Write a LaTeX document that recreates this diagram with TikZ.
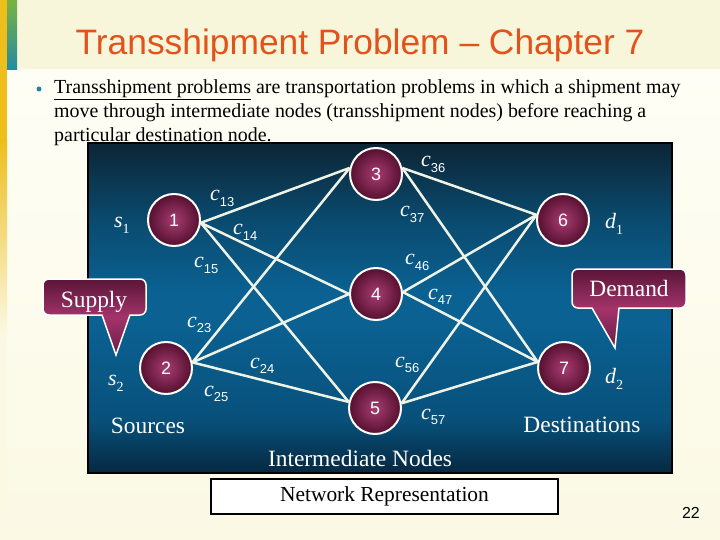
\documentclass[tikz,border=0pt]{standalone}
\usepackage{fontspec}
\setmainfont{Liberation Serif}
\newfontfamily\arialf{Liberation Sans}
\definecolor{slidebg}{HTML}{FBF9E4}
\definecolor{titleband}{HTML}{F7F5DA}
\definecolor{panelc}{HTML}{FEFEF6}
\definecolor{stripeY}{HTML}{EDBE1C}
\definecolor{stripeG}{HTML}{7AB342}
\definecolor{stripeT}{HTML}{2589A2}
\definecolor{titlec}{HTML}{E2531C}
\definecolor{bulletc}{HTML}{2A7F9A}
\definecolor{boxtop}{HTML}{0C2535}
\definecolor{boxupper}{HTML}{0A4A6E}
\definecolor{boxmid}{HTML}{0A6192}
\definecolor{boxlower}{HTML}{08507A}
\definecolor{boxbot}{HTML}{062840}
\definecolor{nodein}{HTML}{A83C72}
\definecolor{nodeout}{HTML}{55102F}
\definecolor{calltop}{HTML}{5A1537}
\definecolor{callmid}{HTML}{A3346B}
\definecolor{callbot}{HTML}{6A1C45}
\definecolor{edgec}{HTML}{EEF3E6}
% TikZ fits the path to the central 25bp--75bp band of a 100bp shading
\pgfdeclareverticalshading{panelshade}{100bp}{color(0bp)=(boxbot); color(25bp)=(boxbot); color(33bp)=(boxlower); color(47.5bp)=(boxmid); color(52.5bp)=(boxmid); color(63.5bp)=(boxupper); color(75bp)=(boxtop); color(100bp)=(boxtop)}
\pgfdeclareverticalshading{callshade}{100bp}{color(0bp)=(callbot); color(25bp)=(callbot); color(50bp)=(callmid); color(75bp)=(calltop); color(100bp)=(calltop)}
\pgfdeclarelayer{bglayer}
\pgfdeclarelayer{edgelayer}
\pgfsetlayers{bglayer,edgelayer,main}
\newcommand{\costlab}[1]{{\fontsize{22}{22}\selectfont\itshape c}\raisebox{-5.5bp}{\arialf\fontsize{13}{13}\selectfont #1}}
\newcommand{\qtylab}[2]{{\fontsize{22}{22}\selectfont\itshape #1}\raisebox{-6bp}{\fontsize{14}{14}\selectfont #2}}
\tikzset{
  netnode/.style={circle, minimum size=52bp, inner sep=0pt, draw=white, line width=2bp,
    inner color=nodein, outer color=nodeout, text=white,
    font=\arialf\fontsize{18}{18}\selectfont},
  netedge/.style={draw=edgec, line width=2.5bp},
  lab/.style={text=white, inner sep=0pt, anchor=base west},
  bigtxt/.style={text=white, inner sep=0pt, anchor=base, font=\fontsize{23.5}{24}\selectfont},
  callout/.style={draw=white, line width=1.5bp, shading=callshade},
  bodytxt/.style={anchor=base west, inner sep=0pt, font=\fontsize{20}{24}\selectfont}
}
\begin{document}
\begin{tikzpicture}[x=1bp,y=-1bp]
\useasboundingbox (0,0) rectangle (720,540);
\begin{pgfonlayer}{bglayer}
  % slide background
  \fill[slidebg] (0,0) rectangle (720,540);
  \fill[titleband] (0,0) rectangle (720,70);
  \shade[top color=panelc, bottom color=slidebg] (7,70) rectangle (720,540);
  \fill[stripeY] (0,0) rectangle (7,140);
  \shade[top color=stripeY, bottom color=slidebg] (0,140) rectangle (7,335);
  \shade[top color=stripeG, bottom color=stripeT] (7,0) rectangle (17,70);
  % title and text
  \node[anchor=base, inner sep=0pt, text=titlec, font=\arialf\fontsize{35.5}{36}\selectfont] (title) at (360,55) {Transshipment Problem – Chapter 7};
  \fill[bulletc] (39,89) circle (2.5);
  \node[bodytxt] (line1) at (54,94) {\underline{Transshipment problems} are transportation problems in which a shipment may};
  \node[bodytxt] (line2) at (54,118) {move through intermediate nodes (transshipment nodes) before reaching a};
  \node[bodytxt] (line3) at (54,142) {particular destination node.};
  % network panel
  \shade[shading=panelshade] (88,143) rectangle (672,473);
  \draw[black, line width=2bp] (88,143) rectangle (672,473);
\end{pgfonlayer}

% nodes
\node[netnode] (n1) at (174,220) {1};
\node[netnode] (n2) at (166,368) {2};
\node[netnode] (n3) at (376,174) {3};
\node[netnode] (n4) at (376,294) {4};
\node[netnode] (n5) at (375,408) {5};
\node[netnode] (n6) at (563,220) {6};
\node[netnode] (n7) at (564,368) {7};

\begin{pgfonlayer}{edgelayer}
  \foreach \a/\b in {n1.-6/n3.167, n1.-6/n4.180, n1.-6/n5.167,
                     n2.12/n3.167, n2.12/n4.180, n2.12/n5.167,
                     n3.13/n6.169, n3.13/n7.167,
                     n4.4/n6.169, n4.4/n7.167,
                     n5.10/n6.169, n5.10/n7.167}
    \draw[netedge] (\a) -- (\b);
\end{pgfonlayer}

% cost labels
\node[lab] (c13) at (210,201) {\costlab{13}};
\node[lab] (c14) at (233,235) {\costlab{14}};
\node[lab] (c15) at (194,268) {\costlab{15}};
\node[lab] (c23) at (187,327) {\costlab{23}};
\node[lab] (c24) at (250,368) {\costlab{24}};
\node[lab] (c25) at (204,396) {\costlab{25}};
\node[lab] (c36) at (421,167) {\costlab{36}};
\node[lab] (c37) at (400,217) {\costlab{37}};
\node[lab] (c46) at (405,265) {\costlab{46}};
\node[lab] (c47) at (428,299) {\costlab{47}};
\node[lab] (c56) at (395,367) {\costlab{56}};
\node[lab] (c57) at (421,419) {\costlab{57}};

% supply / demand
\node[lab] (s1) at (114,228) {\qtylab{s}{1}};
\node[lab] (s2) at (108,385) {\qtylab{s}{2}};
\node[lab] (d1) at (605,229) {\qtylab{d}{1}};
\node[lab] (d2) at (605,383) {\qtylab{d}{2}};

% group labels
\node[bigtxt] (sources) at (148,433) {Sources};
\node[bigtxt] (inter) at (360,466) {Intermediate Nodes};
\node[bigtxt] (dest) at (582,432) {Destinations};

% callouts
\path[callout] (102,315) [rounded corners=6bp] -- (43,315) -- (43,279) -- (146,279) -- (146,315) [sharp corners] -- (130,315) -- (116,355) -- cycle;
\node[bigtxt] (supply) at (94,307) {Supply};
\path[callout] (592,308) [rounded corners=6bp] -- (572,308) -- (572,269) -- (686,269) -- (686,308) [sharp corners] -- (619,308) -- (615,348) -- cycle;
\node[bigtxt] (demand) at (629,296) {Demand};

% caption box
\node[draw=black, line width=1.5bp, fill=white, minimum width=347bp, minimum height=35bp, inner sep=0pt, font=\fontsize{21.5}{22}\selectfont] (caption) at (384.5,496.5) {Network Representation};

% page number
\node[anchor=base east, inner sep=0pt, font=\arialf\fontsize{16}{16}\selectfont] (pagenum) at (700,518) {22};
\end{tikzpicture}
\end{document}
